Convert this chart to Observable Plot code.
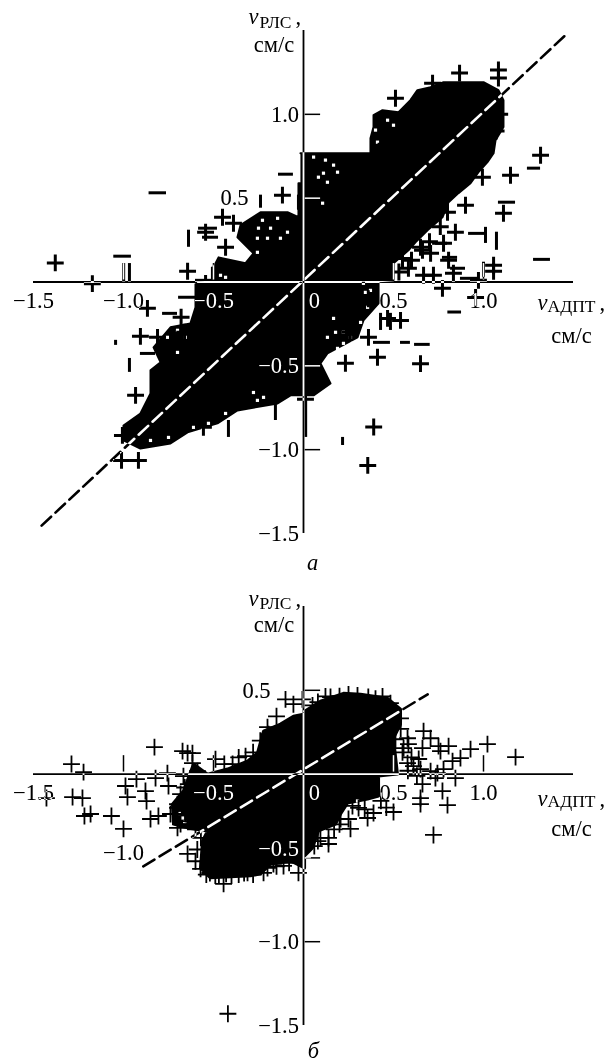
<!DOCTYPE html>
<html><head><meta charset="utf-8">
<style>html,body{margin:0;padding:0;background:#fff;overflow:hidden}svg{display:block}</style>
<script src="https://cdn.jsdelivr.net/npm/d3@7"></script>
<script src="https://cdn.jsdelivr.net/npm/@observablehq/plot@0.6"></script>
</head><body><div id="chart"></div>
<script>
// ---- panel a
const blobA = [[-.017,.768],[.372,.768],[.372,.858],[.389,.924],[.389,.995],[.439,1.025],[.528,1.013],[.594,1.085],[.633,1.144],[.706,1.162],[.778,1.192],[1.0,1.192],[1.083,1.144],[1.111,1.085],[1.111,.924],[1.067,.846],[1.056,.768],[1.022,.715],[.972,.655],[.928,.589],[.861,.53],[.806,.476],[.772,.386],[.689,.309],[.622,.237],[.583,.189],[.5,.112],[.5,.01],[.417,.004],[.417,-.127],[.333,-.229],[.3,-.33],[.133,-.426],[.094,-.485],[.15,-.605],[.056,-.676],[-.072,-.676],[-.144,-.724],[-.367,-.766],[-.478,-.843],[-.644,-.897],[-.739,-.963],[-.906,-.993],[-1.0,-.945],[-1.0,-.856],[-.906,-.784],[-.85,-.664],[-.85,-.527],[-.794,-.479],[-.833,-.39],[-.739,-.27],[-.628,-.247],[-.6,-.151],[-.6,-.014],[-.5,.01],[-.5,.088],[-.472,.147],[-.322,.112],[-.278,.171],[-.367,.267],[-.35,.339],[-.239,.416],[-.089,.416],[-.028,.386],[-.028,.589],[-.017,.589]];
const specksA = [[.056,.745],[.122,.727],[.167,.697],[.189,.655],[.111,.649],[.083,.625],[.133,.595],[.106,.47],[-.144,.38],[-.228,.368],[-.183,.321],[-.25,.321],[-.256,.261],[-.2,.261],[-.128,.261],[-.089,.297],[-.256,.177],[-.433,.028],[-.461,.04],[.167,-.217],[.133,-.33],[.178,-.3],[.222,-.3],[.261,-.33],[.189,-.396],[.222,-.366],[.272,-.366],[.333,-.008],[.344,-.062],[.372,-.05],[.356,-.151],[.317,-.241],[.372,-.247],[.467,.965],[.5,.935],[.411,.834],[.4,.906],[-.656,-.33],[-.7,-.288],[-.756,-.33],[-.7,-.42],[-.278,-.659],[-.222,-.688],[-.256,-.706],[-.528,-.843],[-.561,-.873],[-.611,-.867],[-.85,-.945],[-.75,-.927],[-.433,-.784]];
const plusA = [[.511,1.096],[.717,1.186],[.867,1.246],[1.083,1.264],[1.083,1.216],[1.317,.756],[1.15,.637],[.994,.625],[.9,.458],[.8,.416],[1.111,.41],[.844,.297],[.778,.231],[.661,.189],[.806,.13],[.583,.082],[.667,.04],[.722,.04],[.833,.052],[1.056,.1],[1.056,.064],[.972,.01],[.772,-.038],[.956,-.092],[.706,.171],[.65,.207],
 [-.117,.518],[-.45,.386],[-.389,.35],[-.544,.297],[-.433,.207],[-.644,.064],[-.544,-.008],[.361,-.33],[.411,-.449],[.233,-.485],[.539,-.229],[.467,-.217],
 [-.867,-.157],[-.906,-.324],[-.811,-.33],[-.933,-.676],[-1.006,-.915],[-1.011,-1.064],[-.917,-1.064],[-.556,-.867],[.011,-.7],
 [-1.379,.114],[-1.173,-.01],[.39,-.865],[.357,-1.094],[.65,-.487],
 [.42,.78],[.44,.87],[.56,.98],[.62,1.02],[1.09,1.0],[1.07,.9],[.76,.33],[.7,.24],[.6,.13],[.55,.14],[.53,.06],[.36,-.1],[.33,-.17],[.26,-.3],[-.68,-.21],[-.66,-.3]];
const dashA = [[1.083,1.178,.476],[1.244,1.317,.679],[1.278,1.372,.135],[.917,1.011,.29],[.717,.8,.231],[.772,.856,.147],[.872,.967,.022],[.817,.9,.082],[-.139,-.056,.643],[-.583,-.478,.321],[-.561,-.472,.267],[-.6,-.506,.01],[-.694,-.6,-.091],[.389,.483,-.36],[.539,.594,-.36],[-.783,-.7,-.187],[-.906,-.822,-.426],[-.858,-.761,.532],[-1.054,-.956,.154],[.802,.878,-.179],[.617,.704,-.372]];
const barA = [[1.011,.326,.23],[1.072,.297,.189],[1.0,.118,.028],[-.239,.518,.44],[-.028,.518,.428],[-.639,.309,.207],[-.506,.088,.01],[.428,-.187,-.289],[.483,-.187,-.289],[-.967,-.456,-.539],[-1.044,-.348,-.378],[-.417,-.826,-.927],[-.156,-.724,-.826],[.012,-.706,-.927],[.217,-.927,-.975],[-.967,.11,0],[-.999,.11,0]];
const lineA = [[-1.455,-1.453],[1.456,1.473]];
const xLabelsA = [["−1.5",-1.5,-.11],["−1.0",-1,-.11],["−0.5",-.5,-.11],["0",.06,-.11],["0.5",.5,-.11],["1.0",1,-.11]];
const yLabelsA = [["1.0",-.025,1],["0.5",-.305,.5],["−0.5",-.025,-.5],["−1.0",-.025,-1],["−1.5",-.025,-1.5]];
const xTicksA = [-1,-.5,.5,1];
const yTicksA = [1,.5,-.5,-1];
// ---- panel b
const blobB = [[.006,.375],[.094,.435],[.222,.482],[.317,.476],[.467,.452],[.539,.387],[.539,.298],[.5,.214],[.522,0],[.417,-.012],[.417,-.131],[.356,-.149],[.244,-.173],[.206,-.238],[.178,-.298],[.083,-.339],[.05,-.44],[.006,-.488],[.006,-.56],[-.072,-.518],[-.183,-.536],[-.239,-.595],[-.294,-.607],[-.517,-.619],[-.572,-.56],[-.561,-.399],[-.533,-.339],[-.644,-.321],[-.722,-.298],[-.728,-.179],[-.667,-.101],[-.611,.06],[-.533,0],[-.422,.03],[-.311,.077],[-.256,.125],[-.222,.256],[-.128,.298],[-.056,.345],[0,.357]];
const specksB = [[-.672,-.262],[-.66,-.285],[-.69,-.235],[.3,-.16],[.27,-.19]];
const plusB = [[-1.289,.06],[-1.222,.012],[-1.428,-.143],[-1.283,-.137],[-1.228,-.143],[-1.217,-.25],[-1.183,-.238],[-1.067,-.25],[-1.0,-.327],[-.978,-.137],[-.989,-.071],[-.928,-.03],[-.828,.161],[-.822,-.024],[-.756,.006],[-.75,-.071],[-.878,-.101],[-.872,-.161],[-.85,-.268],[-.806,-.25],[-.672,.137],[-.617,.125],[-.644,.125],[-.617,.065],[-.589,.018],[-.667,-.012],[-.683,-.119],[-.7,-.179],[-.739,-.238],[-.683,-.298],[-.644,-.476],[-.572,-.565],[-.444,-.655],[-.489,.089],[-.394,.06],[-.322,.107],[-.7,-.202],[-.656,-.238],[-.628,-.28],[-.7,-.321],[-.611,-.173],[-.644,-.143],
 [-.1,.446],[-.006,.446],[-.056,.417],[-.15,.345],[-.194,.238],[.122,.464],[.439,.464],[.483,.423],[.539,.333],[.511,.208],[.578,.214],[.556,.155],[.667,.256],[.706,.214],[.583,.179],[.661,.155],[.75,.167],[.806,.167],[.761,.137],[.872,.095],[.828,.077],[.928,.149],[1.022,.179],[1.178,.101],[.578,.065],[.611,.048],[.65,.03],[.706,.018],[.744,.006],[.778,.03],[.733,-.024],[.844,-.024],[.661,-.06],[.772,-.101],[.65,-.143],[.65,-.179],[.8,-.185],[.5,-.226],[.722,-.363],[.389,-.232],[.356,-.262],[.306,-.202],[.272,-.19],[.25,-.268],[.206,-.268],[.261,-.327],[.139,-.381],[.139,-.417],[.094,-.381],[-.006,-.5],[-.028,-.589],[-.111,-.548],[-.167,-.536],[-.311,-.589],[-.222,-.589],[-.42,-1.43],
 [-.54,-.6],[-.52,-.59],[-.49,-.605],[-.47,-.6],[-.43,-.595],[-.4,-.605],[-.36,-.6],[-.33,-.59],[-.28,-.6],[-.2,-.56],[-.15,-.55],[-.08,-.53],[.15,.46],[.2,.465],[.25,.475],[.3,.47],[.36,.46],[.4,.45],[.05,.41],[.08,.43],[-.24,.2],[-.2,.28],[-.28,.13],[-.36,.1],[-.44,.06],[.46,-.2],[.43,-.16],[.34,-.21],[.2,-.3],[.17,-.33],[.06,-.43],[.08,-.4],[.54,.27],[.55,.13],[.6,.1],[.64,.09],[.58,.02],[.63,-.01],[-.6,-.33],[-.57,-.38],[-.59,-.45],[-.6,-.52],[-.58,-.05],[-.64,-.06],[-.66,-.08]];
const dashB = [];
const barB = [];
const lineB = [[-.89,-.55],[.69,.476]];
const xLabelsB = [["−1.5",-1.5,-.113],["−1.0",-1,-.47],["−0.5",-.5,-.113],["0",.06,-.113],["0.5",.5,-.113],["1.0",1,-.113]];
const yLabelsB = [["0.5",-.183,.5],["−0.5",-.025,-.446],["−1.0",-.025,-1],["−1.5",-.025,-1.5]];
const xTicksB = [-1,-.5,.5,1];
const yTicksB = [.5,-.5,-1];

const FONT = "'Liberation Serif','Times New Roman',serif";
const inv = {mixBlendMode: "difference"};
function panel({height, yDomain, yRange, yMin, yMax, blob, specks, plus, dash, bar, line, xLabels, yLabels, xTicks, yTicks, plusW, blobW, letter, head}) {
  const tx = (rows, o) => Plot.text(rows, {text: d => d[0], x: d => d[1], y: d => d[2], fontFamily: FONT, ...o});
  return Plot.plot({
    width: 614, height, margin: 0,
    style: {background: "#fff"},
    x: {domain: [-1.5, 1.5], range: [33, 573], axis: null},
    y: {domain: yDomain, range: yRange, axis: null},
    marks: [
      Plot.line(blob, {x: d => d[0], y: d => d[1], fill: "#000", stroke: "#000", strokeWidth: blobW}),
      Plot.dot(specks, {x: d => d[0], y: d => d[1], symbol: "square", r: 1.8, fill: "#fff"}),
      Plot.dot(plus, {x: d => d[0], y: d => d[1], symbol: "plus", r: 5.5, stroke: "#000", strokeWidth: plusW}),
      Plot.ruleY(dash, {x1: d => d[0], x2: d => d[1], y: d => d[2], stroke: "#000", strokeWidth: 3}),
      Plot.ruleX(bar, {x: d => d[0], y1: d => d[1], y2: d => d[2], stroke: "#000", strokeWidth: 3}),
      Plot.ruleY([0], {x1: -1.5, x2: 1.5, stroke: "#fff", strokeWidth: 1.8, ...inv}),
      Plot.ruleX([0], {y1: yMin, y2: yMax, stroke: "#fff", strokeWidth: 1.8, ...inv}),
      Plot.ruleX(xTicks, {y1: 0.012, y2: 0.11, stroke: "#fff", strokeWidth: 1.5, ...inv}),
      Plot.ruleY(yTicks, {x1: 0.006, x2: 0.095, stroke: "#fff", strokeWidth: 1.5, ...inv}),
      Plot.line(line, {x: d => d[0], y: d => d[1], stroke: "#fff", strokeWidth: 2.6, strokeDasharray: "13,6", ...inv}),
      tx(xLabels, {fill: "#fff", fontSize: 22.5, textAnchor: "middle", ...inv}),
      tx(yLabels, {fill: "#fff", fontSize: 22.5, textAnchor: "end", ...inv}),
      tx(head.big, {fill: "#000", fontSize: 22.5, textAnchor: "start", fontStyle: "italic"}),
      tx(head.small, {fill: "#000", fontSize: 17.5, textAnchor: "start"}),
      tx(head.comma, {fill: "#000", fontSize: 22.5, textAnchor: "start"}),
      tx(head.unit, {fill: "#000", fontSize: 22.5, textAnchor: "middle"}),
      tx(letter, {fill: "#000", fontSize: 22.5, textAnchor: "middle", fontStyle: "italic"})
    ]
  });
}
const root = document.getElementById("chart");
root.append(panel({
  height: 580, yDomain: [-1.5, 1.5], yRange: [533, 30], yMin: -1.5, yMax: 1.5,
  blob: blobA, specks: specksA, plus: plusA, dash: dashA, bar: barA, line: lineA, blobW: 2,
  xLabels: xLabelsA, yLabels: yLabelsA, xTicks: xTicksA, yTicks: yTicksA, plusW: 3,
  letter: [["а", .05, -1.673]],
  head: {
    big: [["v", -.306, 1.58], ["v", 1.3, -.127]],
    small: [["РЛС", -.244, 1.55], ["АДПТ", 1.356, -.145]],
    comma: [[",", -.044, 1.58], [",", 1.644, -.127]],
    unit: [["см/с", -.164, 1.413], ["см/с", 1.489, -.318]]
  }
}));
root.append(panel({
  height: 482, yDomain: [-1.5, 1], yRange: [445, 26], yMin: -1.5, yMax: 1,
  blob: blobB, specks: specksB, plus: plusB, dash: dashB, bar: barB, line: lineB, blobW: 3,
  xLabels: xLabelsB, yLabels: yLabelsB, xTicks: xTicksB, yTicks: yTicksB, plusW: 1.8,
  letter: [["б", .055, -1.648]],
  head: {
    big: [["v", -.306, 1.048], ["v", 1.3, -.149]],
    small: [["РЛС", -.244, 1.02], ["АДПТ", 1.356, -.165]],
    comma: [[",", -.044, 1.048], [",", 1.644, -.149]],
    unit: [["см/с", -.164, .893], ["см/с", 1.489, -.327]]
  }
}));
</script></body></html>
